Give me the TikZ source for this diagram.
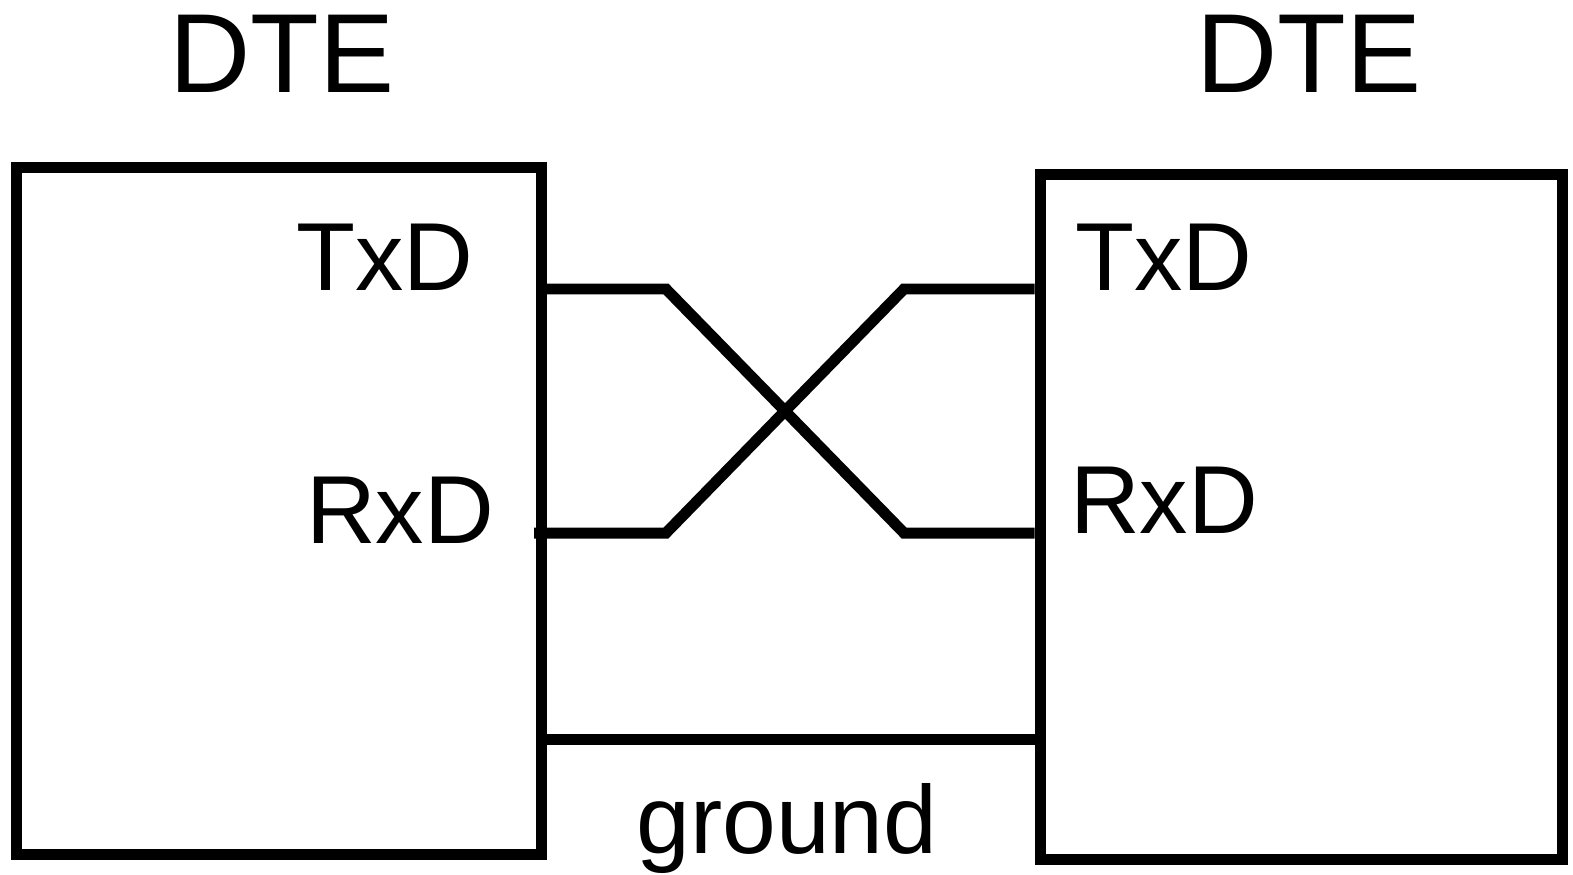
\documentclass[tikz,border=0pt]{standalone}
\usepackage{fontspec}
\setmainfont{Liberation Sans}
\usetikzlibrary{positioning}

\begin{document}
\begin{tikzpicture}[x=0.02cm,y=-0.02cm,line width=0.22cm,
  unit/.style={draw,inner sep=0pt},
  title/.style={anchor=base,font=\fontsize{64}{70}\selectfont},
  pin/.style={anchor=base,font=\fontsize{55}{60}\selectfont}]
\useasboundingbox (0,0) rectangle (1573,875);
\node[unit,minimum width=10.5cm,minimum height=13.76cm] (lbox) at (279,511) {};
\node[unit,minimum width=10.46cm,minimum height=13.72cm] (rbox) at (1301.5,517) {};
\node[title] (ldte) at (282,93) {DTE};
\node[title] (rdte) at (1309,93) {DTE};
\node[pin] (ltxd) at (385,290) {TxD};
\node[pin] (lrxd) at (400,543) {RxD};
\node[pin] (rtxd) at (1164,290) {TxD};
\node[pin] (rrxd) at (1164,533) {RxD};
\node[pin] (gnd) at (787,853) {ground};
% wire ends
\coordinate (ltx) at (lbox.east |- 0,289);
\coordinate (lrx) at (534,533);
\coordinate (lgd) at (lbox.east |- 0,739);
\coordinate (rtx) at (rbox.west |- 0,289);
\coordinate (rrx) at (rbox.west |- 0,533);
\coordinate (rgd) at (rbox.west |- 0,739);
\coordinate (xtl) at (666,289);
\coordinate (xbl) at (666,533);
\coordinate (xtr) at (904,289);
\coordinate (xbr) at (904,533);
\draw (ltx) -- (xtl) -- (xbr) -- (rrx);
\draw (lrx) -- (xbl) -- (xtr) -- (rtx);
\draw (lgd) -- (rgd);
\end{tikzpicture}
\end{document}
